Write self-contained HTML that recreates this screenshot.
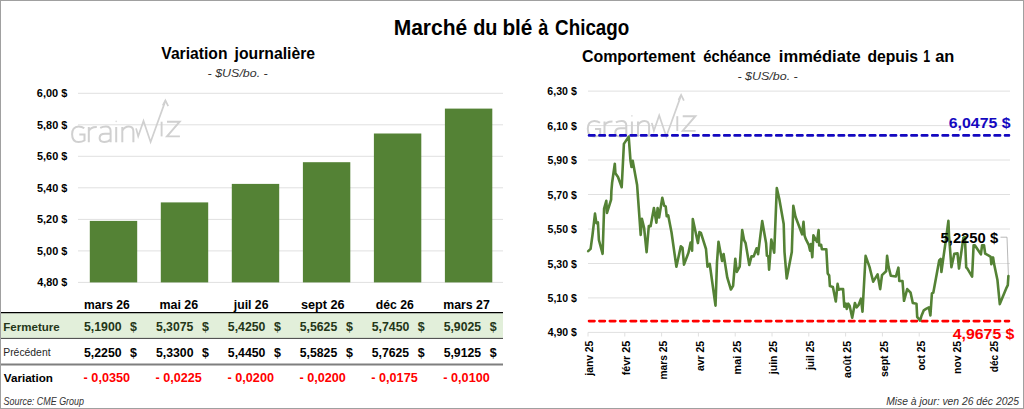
<!DOCTYPE html>
<html><head><meta charset="utf-8"><style>
html,body{margin:0;padding:0;background:#fff;overflow:hidden;}
svg{display:block;font-family:"Liberation Sans", sans-serif;}
</style></head><body>
<svg width="1024" height="409" viewBox="0 0 1024 409">
<rect x="0" y="0" width="1024" height="409" fill="#fff"/>
<line x1="78" y1="282.4" x2="503" y2="282.4" stroke="#e0e0e0" stroke-width="1"/>
<line x1="78" y1="250.9" x2="503" y2="250.9" stroke="#e0e0e0" stroke-width="1"/>
<line x1="78" y1="219.4" x2="503" y2="219.4" stroke="#e0e0e0" stroke-width="1"/>
<line x1="78" y1="187.8" x2="503" y2="187.8" stroke="#e0e0e0" stroke-width="1"/>
<line x1="78" y1="156.3" x2="503" y2="156.3" stroke="#e0e0e0" stroke-width="1"/>
<line x1="78" y1="124.8" x2="503" y2="124.8" stroke="#e0e0e0" stroke-width="1"/>
<line x1="78" y1="93.3" x2="503" y2="93.3" stroke="#e0e0e0" stroke-width="1"/>
<rect x="89.8" y="220.9" width="47.4" height="61.5" fill="#548235"/>
<rect x="160.8" y="202.4" width="47.4" height="80.0" fill="#548235"/>
<rect x="231.8" y="183.9" width="47.4" height="98.5" fill="#548235"/>
<rect x="302.9" y="162.2" width="47.4" height="120.2" fill="#548235"/>
<rect x="373.9" y="133.5" width="47.4" height="148.9" fill="#548235"/>
<rect x="444.9" y="108.6" width="47.4" height="173.8" fill="#548235"/>
<g transform="translate(0,0)" fill="none" stroke="#d0d0d0" stroke-width="2.0"><path d="M84.3 128.3 C82.5 126.9 80.6 126.4 78.6 126.4 C74.2 126.4 72.1 129.9 72.1 134.2 C72.1 138.6 74.2 142 78.6 142 C81 142 82.9 141.4 84.5 140.5 L84.5 134.6 L79.3 134.6"/><path d="M88.8 142.3 L88.8 127 M88.8 131.2 C90 127.9 92.4 126.8 96.8 126.9"/><path d="M100.2 127.9 C102.1 126.8 104 126.5 106 126.5 C109 126.5 110.6 128 110.6 131.1 L110.6 142.3 M110.6 133.7 L105 133.7 C101.4 133.7 99.6 135.4 99.6 138.1 C99.6 140.7 101.4 142 104.2 142 C107 142 109 141.1 110.6 139.3"/><path d="M116.2 127 L116.2 142.3"/><circle cx="116.2" cy="121.3" r="0.9" fill="#e0e0e0" stroke="none"/><path d="M122.3 142.3 L122.3 127 M122.3 130.8 C124 127.6 126.3 126.5 128.8 126.5 C132 126.5 133.4 128.4 133.4 131.7 L133.4 142.3"/><path d="M136.1 128.4 L138.2 136.3 L143.5 121 L150.6 142 L165.4 100.9" stroke-width="1.7"/><path d="M162.8 105.5 L165.4 100.4 L168.2 106.2" stroke-width="1.7"/><path d="M161.6 121.7 L161.6 136.4" stroke-width="1.9"/><path d="M167 121.7 L179.7 121.7 L167 136.4 L179.9 136.4" stroke-width="1.9"/></g>
<rect x="1" y="313.2" width="502" height="25" fill="#e2efda"/>
<line x1="1" y1="312.6" x2="503" y2="312.6" stroke="#000" stroke-width="1.4"/>
<line x1="1" y1="338.4" x2="503" y2="338.4" stroke="#404040" stroke-width="1"/>
<line x1="1" y1="364.6" x2="503" y2="364.6" stroke="#7f7f7f" stroke-width="2"/>
<line x1="588" y1="297.9" x2="1010" y2="297.9" stroke="#e0e0e0" stroke-width="1"/>
<line x1="588" y1="263.5" x2="1010" y2="263.5" stroke="#e0e0e0" stroke-width="1"/>
<line x1="588" y1="229.0" x2="1010" y2="229.0" stroke="#e0e0e0" stroke-width="1"/>
<line x1="588" y1="194.5" x2="1010" y2="194.5" stroke="#e0e0e0" stroke-width="1"/>
<line x1="588" y1="160.0" x2="1010" y2="160.0" stroke="#e0e0e0" stroke-width="1"/>
<line x1="588" y1="125.6" x2="1010" y2="125.6" stroke="#e0e0e0" stroke-width="1"/>
<line x1="588" y1="91.1" x2="1010" y2="91.1" stroke="#e0e0e0" stroke-width="1"/>
<line x1="588" y1="332.4" x2="1010" y2="332.4" stroke="#e0e0e0" stroke-width="1"/>
<line x1="588.0" y1="332.4" x2="588.0" y2="336.5" stroke="#e0e0e0" stroke-width="1"/>
<line x1="624.8" y1="332.4" x2="624.8" y2="336.5" stroke="#e0e0e0" stroke-width="1"/>
<line x1="661.6" y1="332.4" x2="661.6" y2="336.5" stroke="#e0e0e0" stroke-width="1"/>
<line x1="698.4" y1="332.4" x2="698.4" y2="336.5" stroke="#e0e0e0" stroke-width="1"/>
<line x1="735.2" y1="332.4" x2="735.2" y2="336.5" stroke="#e0e0e0" stroke-width="1"/>
<line x1="772.0" y1="332.4" x2="772.0" y2="336.5" stroke="#e0e0e0" stroke-width="1"/>
<line x1="808.8" y1="332.4" x2="808.8" y2="336.5" stroke="#e0e0e0" stroke-width="1"/>
<line x1="845.6" y1="332.4" x2="845.6" y2="336.5" stroke="#e0e0e0" stroke-width="1"/>
<line x1="882.4" y1="332.4" x2="882.4" y2="336.5" stroke="#e0e0e0" stroke-width="1"/>
<line x1="919.2" y1="332.4" x2="919.2" y2="336.5" stroke="#e0e0e0" stroke-width="1"/>
<line x1="956.0" y1="332.4" x2="956.0" y2="336.5" stroke="#e0e0e0" stroke-width="1"/>
<line x1="992.8" y1="332.4" x2="992.8" y2="336.5" stroke="#e0e0e0" stroke-width="1"/>
<g transform="translate(515.7,-5.5)" fill="none" stroke="#d0d0d0" stroke-width="2.0"><path d="M84.3 128.3 C82.5 126.9 80.6 126.4 78.6 126.4 C74.2 126.4 72.1 129.9 72.1 134.2 C72.1 138.6 74.2 142 78.6 142 C81 142 82.9 141.4 84.5 140.5 L84.5 134.6 L79.3 134.6"/><path d="M88.8 142.3 L88.8 127 M88.8 131.2 C90 127.9 92.4 126.8 96.8 126.9"/><path d="M100.2 127.9 C102.1 126.8 104 126.5 106 126.5 C109 126.5 110.6 128 110.6 131.1 L110.6 142.3 M110.6 133.7 L105 133.7 C101.4 133.7 99.6 135.4 99.6 138.1 C99.6 140.7 101.4 142 104.2 142 C107 142 109 141.1 110.6 139.3"/><path d="M116.2 127 L116.2 142.3"/><circle cx="116.2" cy="121.3" r="0.9" fill="#e0e0e0" stroke="none"/><path d="M122.3 142.3 L122.3 127 M122.3 130.8 C124 127.6 126.3 126.5 128.8 126.5 C132 126.5 133.4 128.4 133.4 131.7 L133.4 142.3"/><path d="M136.1 128.4 L138.2 136.3 L143.5 121 L150.6 142 L165.4 100.9" stroke-width="1.7"/><path d="M162.8 105.5 L165.4 100.4 L168.2 106.2" stroke-width="1.7"/><path d="M161.6 121.7 L161.6 136.4" stroke-width="1.9"/><path d="M167 121.7 L179.7 121.7 L167 136.4 L179.9 136.4" stroke-width="1.9"/></g>
<line x1="589" y1="135.4" x2="1009" y2="135.4" stroke="#1408c0" stroke-width="2.6" stroke-dasharray="5.5 4.9" stroke-linecap="round"/>
<line x1="589" y1="321.1" x2="1009" y2="321.1" stroke="#ff0000" stroke-width="2.6" stroke-dasharray="5.5 4.9" stroke-linecap="round"/>
<polyline points="1000.5,237.2 1007,237.2 1008.4,275" fill="none" stroke="#a6a6a6" stroke-width="0.8"/>
<path d="M588.2 251.1 L590.6 248.9 L592.5 235.0 L595.0 213.6 L596.4 223.1 L597.9 222.4 L598.9 240.0 L602.6 253.8 L604.1 208.5 L606.3 200.8 L607.0 212.9 L611.1 199.7 L611.4 190.9 L612.1 182.8 L614.8 163.7 L615.4 173.3 L618.0 177.0 L621.7 187.2 L623.9 143.9 L628.7 136.6 L630.5 160.8 L631.5 167.0 L632.7 160.8 L637.1 185.0 L640.7 234.9 L641.9 218.7 L644.1 227.9 L646.6 252.1 L648.8 226.0 L650.6 226.3 L653.9 208.0 L656.4 222.7 L657.6 208.0 L659.1 217.5 L662.3 197.7 L664.2 205.8 L665.7 206.5 L666.7 216.1 L668.2 215.3 L671.5 232.3 L676.4 266.8 L680.8 246.3 L682.5 247.7 L684.0 264.6 L688.4 252.9 L690.6 242.6 L692.1 250.7 L692.8 219.0 L697.9 243.1 L699.4 232.1 L700.9 232.9 L706.0 249.0 L707.5 266.7 L709.7 263.8 L715.5 305.6 L717.0 262.3 L718.5 241.7 L722.1 261.0 L723.6 254.0 L727.3 277.7 L730.9 289.5 L733.1 285.8 L735.3 258.7 L736.8 271.9 L739.7 266.7 L742.2 230.0 L744.1 240.2 L745.6 243.1 L749.3 265.0 L751.5 256.4 L753.7 256.4 L756.6 248.3 L758.1 254.2 L762.2 221.1 L766.1 243.2 L766.9 255.7 L768.3 256.4 L769.1 269.6 L771.3 239.5 L772.7 246.1 L774.2 252.7 L776.8 188.1 L779.3 199.0 L783.7 224.0 L784.5 252.0 L786.7 278.4 L791.8 252.0 L793.3 205.7 L795.5 216.7 L802.1 234.3 L803.5 221.8 L804.6 235.7 L805.7 238.9 L808.7 244.8 L810.1 250.7 L810.9 244.1 L812.3 257.3 L813.4 235.3 L815.3 238.9 L817.0 241.9 L818.6 230.1 L819.2 245.5 L821.1 244.8 L821.9 249.2 L826.3 249.2 L827.7 273.4 L829.2 275.6 L829.9 286.1 L832.9 286.9 L835.8 301.5 L837.6 283.9 L838.7 289.8 L840.2 289.1 L843.1 289.1 L844.3 306.7 L845.8 303.7 L846.8 308.9 L848.3 303.7 L849.7 305.9 L852.2 317.7 L854.9 303.0 L856.6 307.4 L858.5 305.2 L861.0 298.6 L862.5 311.8 L865.6 255.9 L869.5 266.9 L873.2 281.7 L877.6 274.4 L880.2 289.1 L882.0 275.1 L886.1 271.3 L887.1 255.9 L888.6 266.9 L890.8 275.7 L895.9 276.5 L898.4 267.7 L899.3 281.0 L902.5 281.0 L904.0 300.8 L907.2 289.1 L910.6 292.7 L912.8 303.0 L916.5 303.7 L917.2 316.9 L920.1 320.6 L921.6 315.5 L923.8 310.3 L926.0 308.9 L928.9 307.4 L930.4 315.5 L931.9 293.5 L933.3 292.7 L939.2 260.5 L940.7 259.0 L941.4 272.0 L943.6 256.1 L946.5 235.5 L948.4 220.9 L949.0 235.5 L951.4 267.1 L954.3 253.9 L957.5 253.4 L959.0 268.5 L963.4 237.7 L964.9 237.0 L966.2 267.4 L967.4 268.7 L972.1 276.6 L973.6 245.2 L974.8 245.2 L980.9 254.3 L982.1 245.2 L984.0 245.2 L985.2 253.7 L988.8 255.6 L990.7 256.8 L991.3 264.1 L993.1 257.4 L994.1 264.1 L997.4 279.7 L999.8 304.1 L1006.6 287.6 L1007.8 285.2 L1008.4 276.0" fill="none" stroke="#548235" stroke-width="2.6" stroke-linejoin="round" stroke-linecap="round"/>
<text x="393.69" y="34.70" font-size="21.4" font-weight="bold" font-style="normal" fill="#000" textLength="73.54" lengthAdjust="spacingAndGlyphs">Marché</text>
<text x="473.18" y="34.70" font-size="21.4" font-weight="bold" font-style="normal" fill="#000" textLength="24.29" lengthAdjust="spacingAndGlyphs">du</text>
<text x="502.40" y="34.70" font-size="21.4" font-weight="bold" font-style="normal" fill="#000" textLength="30.02" lengthAdjust="spacingAndGlyphs">blé</text>
<text x="538.32" y="34.70" font-size="21.4" font-weight="bold" font-style="normal" fill="#000" textLength="10.07" lengthAdjust="spacingAndGlyphs">à</text>
<text x="555.11" y="34.70" font-size="21.4" font-weight="bold" font-style="normal" fill="#000" textLength="74.20" lengthAdjust="spacingAndGlyphs">Chicago</text>
<text x="161.30" y="58.70" font-size="15.9" font-weight="bold" font-style="normal" fill="#000" textLength="66.16" lengthAdjust="spacingAndGlyphs">Variation</text>
<text x="234.55" y="58.70" font-size="15.9" font-weight="bold" font-style="normal" fill="#000" textLength="80.55" lengthAdjust="spacingAndGlyphs">journalière</text>
<text x="581.90" y="61.80" font-size="16.2" font-weight="bold" font-style="normal" fill="#000" textLength="113.48" lengthAdjust="spacingAndGlyphs">Comportement</text>
<text x="703.34" y="61.80" font-size="16.2" font-weight="bold" font-style="normal" fill="#000" textLength="67.53" lengthAdjust="spacingAndGlyphs">échéance</text>
<text x="778.87" y="61.80" font-size="16.2" font-weight="bold" font-style="normal" fill="#000" textLength="81.74" lengthAdjust="spacingAndGlyphs">immédiate</text>
<text x="867.41" y="61.80" font-size="16.2" font-weight="bold" font-style="normal" fill="#000" textLength="50.63" lengthAdjust="spacingAndGlyphs">depuis</text>
<text x="923.23" y="61.80" font-size="16.2" font-weight="bold" font-style="normal" fill="#000" textLength="6.88" lengthAdjust="spacingAndGlyphs">1</text>
<text x="935.24" y="61.80" font-size="16.2" font-weight="bold" font-style="normal" fill="#000" textLength="19.15" lengthAdjust="spacingAndGlyphs">an</text>
<text x="207.62" y="77.00" font-size="11.5" font-weight="normal" font-style="italic" fill="#333333" textLength="60.14" lengthAdjust="spacingAndGlyphs">- $US/bo. -</text>
<text x="737.41" y="79.80" font-size="11.5" font-weight="normal" font-style="italic" fill="#333333" textLength="60.34" lengthAdjust="spacingAndGlyphs">- $US/bo. -</text>
<text x="37.20" y="286.40" font-size="11.4" font-weight="bold" font-style="normal" fill="#000" textLength="30.10" lengthAdjust="spacingAndGlyphs">4,80 $</text>
<text x="37.03" y="254.88" font-size="11.4" font-weight="bold" font-style="normal" fill="#000" textLength="30.27" lengthAdjust="spacingAndGlyphs">5,00 $</text>
<text x="37.03" y="223.36" font-size="11.4" font-weight="bold" font-style="normal" fill="#000" textLength="30.27" lengthAdjust="spacingAndGlyphs">5,20 $</text>
<text x="37.03" y="191.84" font-size="11.4" font-weight="bold" font-style="normal" fill="#000" textLength="30.27" lengthAdjust="spacingAndGlyphs">5,40 $</text>
<text x="37.03" y="160.32" font-size="11.4" font-weight="bold" font-style="normal" fill="#000" textLength="30.27" lengthAdjust="spacingAndGlyphs">5,60 $</text>
<text x="37.03" y="128.80" font-size="11.4" font-weight="bold" font-style="normal" fill="#000" textLength="30.27" lengthAdjust="spacingAndGlyphs">5,80 $</text>
<text x="36.86" y="97.28" font-size="11.4" font-weight="bold" font-style="normal" fill="#000" textLength="30.44" lengthAdjust="spacingAndGlyphs">6,00 $</text>
<text x="547.70" y="336.45" font-size="11.3" font-weight="bold" font-style="normal" fill="#000" textLength="29.10" lengthAdjust="spacingAndGlyphs">4,90 $</text>
<text x="547.54" y="301.98" font-size="11.3" font-weight="bold" font-style="normal" fill="#000" textLength="29.26" lengthAdjust="spacingAndGlyphs">5,10 $</text>
<text x="547.54" y="267.51" font-size="11.3" font-weight="bold" font-style="normal" fill="#000" textLength="29.26" lengthAdjust="spacingAndGlyphs">5,30 $</text>
<text x="547.54" y="233.04" font-size="11.3" font-weight="bold" font-style="normal" fill="#000" textLength="29.26" lengthAdjust="spacingAndGlyphs">5,50 $</text>
<text x="547.54" y="198.57" font-size="11.3" font-weight="bold" font-style="normal" fill="#000" textLength="29.26" lengthAdjust="spacingAndGlyphs">5,70 $</text>
<text x="547.54" y="164.10" font-size="11.3" font-weight="bold" font-style="normal" fill="#000" textLength="29.26" lengthAdjust="spacingAndGlyphs">5,90 $</text>
<text x="547.37" y="129.63" font-size="11.3" font-weight="bold" font-style="normal" fill="#000" textLength="29.43" lengthAdjust="spacingAndGlyphs">6,10 $</text>
<text x="547.37" y="95.16" font-size="11.3" font-weight="bold" font-style="normal" fill="#000" textLength="29.43" lengthAdjust="spacingAndGlyphs">6,30 $</text>
<text x="83.94" y="308.70" font-size="11.9" font-weight="bold" font-style="normal" fill="#000" textLength="45.76" lengthAdjust="spacingAndGlyphs">mars 26</text>
<text x="159.42" y="308.70" font-size="11.9" font-weight="bold" font-style="normal" fill="#000" textLength="38.79" lengthAdjust="spacingAndGlyphs">mai 26</text>
<text x="233.79" y="308.70" font-size="11.9" font-weight="bold" font-style="normal" fill="#000" textLength="34.71" lengthAdjust="spacingAndGlyphs">juil 26</text>
<text x="301.00" y="308.70" font-size="11.9" font-weight="bold" font-style="normal" fill="#000" textLength="43.61" lengthAdjust="spacingAndGlyphs">sept 26</text>
<text x="375.72" y="308.70" font-size="11.9" font-weight="bold" font-style="normal" fill="#000" textLength="37.99" lengthAdjust="spacingAndGlyphs">déc 26</text>
<text x="443.33" y="308.70" font-size="11.9" font-weight="bold" font-style="normal" fill="#000" textLength="46.47" lengthAdjust="spacingAndGlyphs">mars 27</text>
<text x="83.96" y="330.70" font-size="12.3" font-weight="bold" font-style="normal" fill="#243618" textLength="37.64" lengthAdjust="spacingAndGlyphs">5,1900</text>
<text x="130.10" y="330.70" font-size="12.3" font-weight="bold" font-style="normal" fill="#243618" textLength="6.92" lengthAdjust="spacingAndGlyphs">$</text>
<text x="83.96" y="356.50" font-size="12.3" font-weight="bold" font-style="normal" fill="#000" textLength="37.64" lengthAdjust="spacingAndGlyphs">5,2250</text>
<text x="130.10" y="356.50" font-size="12.3" font-weight="bold" font-style="normal" fill="#000" textLength="6.92" lengthAdjust="spacingAndGlyphs">$</text>
<text x="83.60" y="382.20" font-size="12.3" font-weight="bold" font-style="normal" fill="#ff0000" textLength="46.51" lengthAdjust="spacingAndGlyphs">- 0,0350</text>
<text x="155.90" y="330.70" font-size="12.3" font-weight="bold" font-style="normal" fill="#243618" textLength="37.45" lengthAdjust="spacingAndGlyphs">5,3075</text>
<text x="202.04" y="330.70" font-size="12.3" font-weight="bold" font-style="normal" fill="#243618" textLength="6.92" lengthAdjust="spacingAndGlyphs">$</text>
<text x="155.90" y="356.50" font-size="12.3" font-weight="bold" font-style="normal" fill="#000" textLength="37.64" lengthAdjust="spacingAndGlyphs">5,3300</text>
<text x="202.04" y="356.50" font-size="12.3" font-weight="bold" font-style="normal" fill="#000" textLength="6.92" lengthAdjust="spacingAndGlyphs">$</text>
<text x="155.55" y="382.20" font-size="12.3" font-weight="bold" font-style="normal" fill="#ff0000" textLength="46.31" lengthAdjust="spacingAndGlyphs">- 0,0225</text>
<text x="227.84" y="330.70" font-size="12.3" font-weight="bold" font-style="normal" fill="#243618" textLength="37.64" lengthAdjust="spacingAndGlyphs">5,4250</text>
<text x="273.98" y="330.70" font-size="12.3" font-weight="bold" font-style="normal" fill="#243618" textLength="6.92" lengthAdjust="spacingAndGlyphs">$</text>
<text x="227.84" y="356.50" font-size="12.3" font-weight="bold" font-style="normal" fill="#000" textLength="37.64" lengthAdjust="spacingAndGlyphs">5,4450</text>
<text x="273.98" y="356.50" font-size="12.3" font-weight="bold" font-style="normal" fill="#000" textLength="6.92" lengthAdjust="spacingAndGlyphs">$</text>
<text x="227.48" y="382.20" font-size="12.3" font-weight="bold" font-style="normal" fill="#ff0000" textLength="46.51" lengthAdjust="spacingAndGlyphs">- 0,0200</text>
<text x="299.78" y="330.70" font-size="12.3" font-weight="bold" font-style="normal" fill="#243618" textLength="37.45" lengthAdjust="spacingAndGlyphs">5,5625</text>
<text x="345.92" y="330.70" font-size="12.3" font-weight="bold" font-style="normal" fill="#243618" textLength="6.92" lengthAdjust="spacingAndGlyphs">$</text>
<text x="299.78" y="356.50" font-size="12.3" font-weight="bold" font-style="normal" fill="#000" textLength="37.45" lengthAdjust="spacingAndGlyphs">5,5825</text>
<text x="345.92" y="356.50" font-size="12.3" font-weight="bold" font-style="normal" fill="#000" textLength="6.92" lengthAdjust="spacingAndGlyphs">$</text>
<text x="299.42" y="382.20" font-size="12.3" font-weight="bold" font-style="normal" fill="#ff0000" textLength="46.51" lengthAdjust="spacingAndGlyphs">- 0,0200</text>
<text x="371.72" y="330.70" font-size="12.3" font-weight="bold" font-style="normal" fill="#243618" textLength="37.64" lengthAdjust="spacingAndGlyphs">5,7450</text>
<text x="417.86" y="330.70" font-size="12.3" font-weight="bold" font-style="normal" fill="#243618" textLength="6.92" lengthAdjust="spacingAndGlyphs">$</text>
<text x="371.72" y="356.50" font-size="12.3" font-weight="bold" font-style="normal" fill="#000" textLength="37.45" lengthAdjust="spacingAndGlyphs">5,7625</text>
<text x="417.86" y="356.50" font-size="12.3" font-weight="bold" font-style="normal" fill="#000" textLength="6.92" lengthAdjust="spacingAndGlyphs">$</text>
<text x="371.37" y="382.20" font-size="12.3" font-weight="bold" font-style="normal" fill="#ff0000" textLength="46.31" lengthAdjust="spacingAndGlyphs">- 0,0175</text>
<text x="443.66" y="330.70" font-size="12.3" font-weight="bold" font-style="normal" fill="#243618" textLength="37.45" lengthAdjust="spacingAndGlyphs">5,9025</text>
<text x="489.80" y="330.70" font-size="12.3" font-weight="bold" font-style="normal" fill="#243618" textLength="6.92" lengthAdjust="spacingAndGlyphs">$</text>
<text x="443.66" y="356.50" font-size="12.3" font-weight="bold" font-style="normal" fill="#000" textLength="37.45" lengthAdjust="spacingAndGlyphs">5,9125</text>
<text x="489.80" y="356.50" font-size="12.3" font-weight="bold" font-style="normal" fill="#000" textLength="6.92" lengthAdjust="spacingAndGlyphs">$</text>
<text x="443.30" y="382.20" font-size="12.3" font-weight="bold" font-style="normal" fill="#ff0000" textLength="46.51" lengthAdjust="spacingAndGlyphs">- 0,0100</text>
<text x="3.33" y="330.90" font-size="11.0" font-weight="bold" font-style="normal" fill="#243618" textLength="56.36" lengthAdjust="spacingAndGlyphs">Fermeture</text>
<text x="3.24" y="356.30" font-size="10.2" font-weight="normal" font-style="normal" fill="#262626" textLength="47.33" lengthAdjust="spacingAndGlyphs">Précédent</text>
<text x="3.80" y="382.30" font-size="11.5" font-weight="bold" font-style="normal" fill="#000" textLength="49.16" lengthAdjust="spacingAndGlyphs">Variation</text>
<text x="3.56" y="404.50" font-size="10.6" font-weight="normal" font-style="italic" fill="#333333" textLength="80.46" lengthAdjust="spacingAndGlyphs">Source: CME Group</text>
<text x="886.14" y="404.50" font-size="11.0" font-weight="normal" font-style="italic" fill="#333333" textLength="132.80" lengthAdjust="spacingAndGlyphs">Mise à jour: ven 26 déc 2025</text>
<text x="948.80" y="127.60" font-size="14.8" font-weight="bold" font-style="normal" fill="#1408c0" textLength="61.74" lengthAdjust="spacingAndGlyphs">6,0475 $</text>
<text x="952.70" y="338.90" font-size="14.8" font-weight="bold" font-style="normal" fill="#ff0000" textLength="61.75" lengthAdjust="spacingAndGlyphs">4,9675 $</text>
<text x="940.57" y="243.30" font-size="14.4" font-weight="bold" font-style="normal" fill="#000" textLength="57.57" lengthAdjust="spacingAndGlyphs">5,2250 $</text>
<text transform="translate(593.40,375.64) rotate(-90)" x="0" y="0" font-size="10.9" font-weight="bold" font-style="normal" fill="#000" textLength="34.80" lengthAdjust="spacingAndGlyphs">janv 25</text>
<text transform="translate(630.20,375.37) rotate(-90)" x="0" y="0" font-size="10.9" font-weight="bold" font-style="normal" fill="#000" textLength="34.53" lengthAdjust="spacingAndGlyphs">févr 25</text>
<text transform="translate(667.00,379.54) rotate(-90)" x="0" y="0" font-size="10.9" font-weight="bold" font-style="normal" fill="#000" textLength="38.69" lengthAdjust="spacingAndGlyphs">mars 25</text>
<text transform="translate(703.80,371.06) rotate(-90)" x="0" y="0" font-size="10.9" font-weight="bold" font-style="normal" fill="#000" textLength="30.22" lengthAdjust="spacingAndGlyphs">avr 25</text>
<text transform="translate(740.60,374.48) rotate(-90)" x="0" y="0" font-size="10.9" font-weight="bold" font-style="normal" fill="#000" textLength="33.64" lengthAdjust="spacingAndGlyphs">mai 25</text>
<text transform="translate(777.40,374.14) rotate(-90)" x="0" y="0" font-size="10.9" font-weight="bold" font-style="normal" fill="#000" textLength="33.30" lengthAdjust="spacingAndGlyphs">juin 25</text>
<text transform="translate(814.20,370.04) rotate(-90)" x="0" y="0" font-size="10.9" font-weight="bold" font-style="normal" fill="#000" textLength="29.20" lengthAdjust="spacingAndGlyphs">juil 25</text>
<text transform="translate(851.00,377.97) rotate(-90)" x="0" y="0" font-size="10.9" font-weight="bold" font-style="normal" fill="#000" textLength="37.13" lengthAdjust="spacingAndGlyphs">août 25</text>
<text transform="translate(887.80,377.03) rotate(-90)" x="0" y="0" font-size="10.9" font-weight="bold" font-style="normal" fill="#000" textLength="36.19" lengthAdjust="spacingAndGlyphs">sept 25</text>
<text transform="translate(924.60,370.52) rotate(-90)" x="0" y="0" font-size="10.9" font-weight="bold" font-style="normal" fill="#000" textLength="29.68" lengthAdjust="spacingAndGlyphs">oct 25</text>
<text transform="translate(961.40,374.06) rotate(-90)" x="0" y="0" font-size="10.9" font-weight="bold" font-style="normal" fill="#000" textLength="33.22" lengthAdjust="spacingAndGlyphs">nov 25</text>
<text transform="translate(998.20,372.21) rotate(-90)" x="0" y="0" font-size="10.9" font-weight="bold" font-style="normal" fill="#000" textLength="31.37" lengthAdjust="spacingAndGlyphs">déc 25</text>
<rect x="0.5" y="0.5" width="1023" height="408" fill="none" stroke="#a0a0a0" stroke-width="1"/>
</svg>
</body></html>
